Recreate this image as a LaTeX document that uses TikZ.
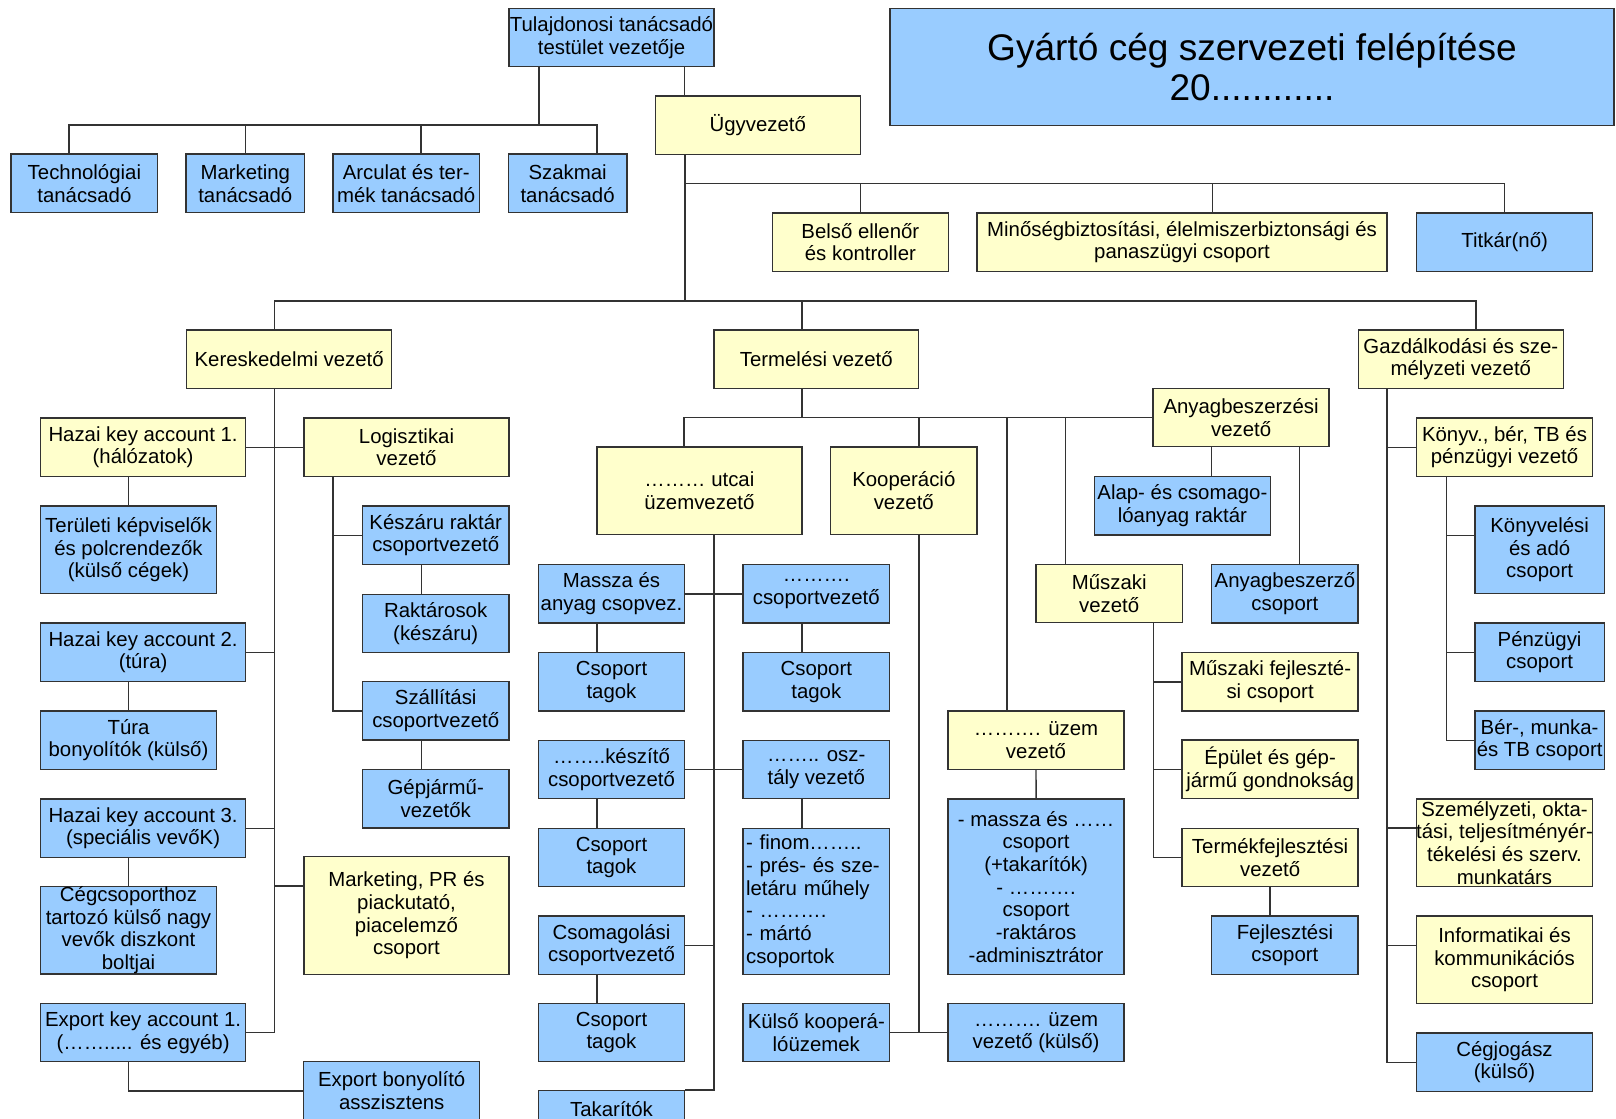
\documentclass[tikz,border=0pt]{standalone}
\usepackage{fontspec}
\setmainfont{Liberation Sans}
\definecolor{boxblue}{HTML}{99CCFF}
\definecolor{boxyellow}{HTML}{FFFFCC}
\definecolor{edge}{HTML}{333333}
\begin{document}
\begin{tikzpicture}[
      x=0.02cm, y=-0.02cm,
      header/.style={rectangle, draw=edge, line width=0.8pt, inner sep=0pt, align=center, font=\fontsize{11.6}{12.9}\selectfont},
      lead/.style={header, fill=boxyellow},
      unit/.style={header, fill=boxblue},
      broad/.style={minimum width=4.10cm},
      regular/.style={minimum width=3.52cm},
      compact/.style={minimum width=2.93cm},
      narrowbox/.style={minimum width=2.37cm},
      finbox/.style={minimum width=2.59cm},
      tworow/.style={minimum height=1.17cm},
      threerow/.style={minimum height=1.75cm},
      link/.style={draw=edge, line width=0.8pt}
  ]
    \useasboundingbox (0,0) rectangle (1616,1119);
    \fill[white] (0,0) rectangle (1616,1119);
    \clip (0,0) rectangle (1616,1119);

    % felső szint
    \node[unit, minimum width=14.48cm, minimum height=2.35cm, font=\fontsize{21.1}{23.3}\selectfont] (title) at (1252,67) {Gyártó cég szervezeti felépítése\\20............};
    \node[unit, broad, tworow] (tulaj) at (611.5,37.5) {Tulajdonosi tanácsadó\\testület vezetője};
    \node[lead, broad, tworow] (ugy) at (757.8,125.4) {Ügyvezető};
    \node[unit, compact, tworow] (tech) at (84.4,183.4) {Technológiai\\tanácsadó};
    \node[unit, narrowbox, tworow] (mkt) at (245.3,183.4) {Marketing\\tanácsadó};
    \node[unit, compact, tworow] (arc) at (406.2,183.4) {Arculat és ter-\\mék tanácsadó};
    \node[unit, narrowbox, tworow] (szak) at (567.6,183.4) {Szakmai\\tanácsadó};
    \node[lead, regular, tworow] (belso) at (860.4,242.2) {Belső ellenőr\\és kontroller};
    \node[lead, minimum width=8.2cm, tworow] (minoseg) at (1182,242.2) {Minőségbiztosítási, élelmiszerbiztonsági és\\panaszügyi csoport};
    \node[unit, regular, tworow] (titkar) at (1504.7,242.2) {Titkár(nő)};
    \node[lead, broad, tworow] (keresk) at (289.2,359.2) {Kereskedelmi vezető};
    \node[lead, broad, tworow] (termel) at (816.3,359.2) {Termelési vezető};
    \node[lead, broad, tworow] (gazd) at (1460.8,359.2) {Gazdálkodási és sze-\\mélyzeti vezető};

    % kereskedelem
    \node[lead, broad, tworow] (hazai1) at (143.1,447.2) {Hazai key account 1.\\(hálózatok)};
    \node[lead, broad, tworow] (logiszt) at (406.5,447.2) {Logisztikai\\vezető};
    \node[unit, regular, threerow] (terul) at (128.5,549.7) {Területi képviselők\\és polcrendezők\\(külső cégek)};
    \node[unit, broad, tworow] (hazai2) at (143.1,652.2) {Hazai key account 2.\\(túra)};
    \node[unit, regular, tworow] (tura) at (128.5,740.2) {Túra\\bonyolítók (külső)};
    \node[unit, broad, tworow] (hazai3) at (143.1,828.2) {Hazai key account 3.\\(speciális vevőK)};
    \node[unit, regular, threerow, inner ysep=-1pt] (cegcs) at (128.5,930.2) {Cégcsoporthoz\\tartozó külső nagy\\vevők diszkont\\boltjai};
    \node[unit, broad, tworow] (exp1) at (143.1,1032.5) {Export key account 1.\\(……..... és egyéb)};
    \node[unit, regular, tworow] (expb) at (391.7,1090.8) {Export bonyolító\\asszisztens};
    \node[lead, broad, minimum height=2.35cm] (mktpr) at (406.5,915.5) {Marketing, PR és\\piackutató,\\piacelemző\\csoport};
    \node[unit, compact, tworow] (keszaru) at (435.7,535.2) {Készáru raktár\\csoportvezető};
    \node[unit, compact, tworow] (raktar) at (435.7,623.5) {Raktárosok\\(készáru)};
    \node[unit, compact, tworow] (szall) at (435.7,710.9) {Szállítási\\csoportvezető};
    \node[unit, compact, tworow] (gepj) at (435.7,798.8) {Gépjármű-\\vezetők};

    % termelés
    \node[lead, broad, threerow] (utcai) at (699.4,490.9) {……… utcai\\üzemvezető};
    \node[lead, compact, threerow] (koop) at (903.8,490.9) {Kooperáció\\vezető};
    \node[lead, regular, tworow] (anyag) at (1241.1,417.5) {Anyagbeszerzési\\vezető};
    \node[unit, regular, tworow] (alap) at (1182.4,505.9) {Alap- és csomago-\\lóanyag raktár};
    \node[lead, compact, tworow] (muszaki) at (1109.2,593.5) {Műszaki\\vezető};
    \node[unit, compact, tworow] (anyagcs) at (1284.9,593.8) {Anyagbeszerző\\csoport};
    \node[lead, regular, tworow] (muszfejl) at (1270.1,681.9) {Műszaki fejleszté-\\si csoport};
    \node[lead, regular, tworow] (epulet) at (1270.1,769.2) {Épület és gép-\\jármű gondnokság};
    \node[lead, regular, tworow] (termfejl) at (1270.1,857.5) {Termékfejlesztési\\vezető};
    \node[unit, compact, tworow] (fejlcs) at (1284.9,945.2) {Fejlesztési\\csoport};
    \node[lead, regular, tworow] (uzemv) at (1036,740.2) {………. üzem\\vezető};
    \node[unit, regular, minimum height=3.51cm] (masszab) at (1036.1,886.7) {- massza és ……\\csoport\\(+takarítók)\\- ……….\\csoport\\-raktáros\\-adminisztrátor};
    \node[unit, regular, tworow] (uzemk) at (1036.1,1032.5) {………. üzem\\vezető (külső)};
    \node[unit, compact, tworow] (kulsok) at (816.3,1032.5) {Külső kooperá-\\lóüzemek};
    \node[unit, compact, tworow] (massza) at (611.5,593.8) {Massza és\\anyag csopvez.};
    \node[unit, compact, tworow] (csopv) at (816.3,593.8) {……….\\csoportvezető};
    \node[unit, compact, tworow] (tag1) at (611.5,681.7) {Csoport\\tagok};
    \node[unit, compact, tworow] (tag2) at (816.3,681.7) {Csoport\\tagok};
    \node[unit, compact, tworow] (keszito) at (611.5,769.5) {……..készítő\\csoportvezető};
    \node[unit, compact, tworow] (osztaly) at (816.3,769.5) {…….. osz-\\tály vezető};
    \node[unit, compact, tworow] (tag3) at (611.5,857.5) {Csoport\\tagok};
    \node[unit, compact, minimum height=2.92cm, align=left, text width=2.81cm, inner xsep=0.06cm] (finom) at (816.3,901.3) {- finom……..\\- prés- és sze-\\letáru műhely\\- ……….\\- mártó\\csoportok};
    \node[unit, compact, tworow] (csomag) at (611.5,945.2) {Csomagolási\\csoportvezető};
    \node[unit, compact, tworow] (tag4) at (611.5,1032.5) {Csoport\\tagok};
    \node[unit, compact, tworow] (takar) at (611.5,1120) {Takarítók\\\mbox{}};

    % gazdálkodás
    \node[lead, regular, tworow] (konyv) at (1504.5,447.2) {Könyv., bér, TB és\\pénzügyi vezető};
    \node[unit, finbox, threerow] (konyvel) at (1539.6,549.7) {Könyvelési\\és adó\\csoport};
    \node[unit, finbox, tworow] (penz) at (1539.6,652.2) {Pénzügyi\\csoport};
    \node[unit, finbox, tworow] (ber) at (1539.6,740.2) {Bér-, munka-\\és TB csoport};
    \node[lead, regular, threerow, inner ysep=-1pt] (szemely) at (1504.5,842.9) {Személyzeti, okta-\\\makebox[0pt]{tási, teljesítményér-}\\tékelési és szerv.\\munkatárs};
    \node[lead, regular, threerow] (inform) at (1504.5,959.7) {Informatikai és\\kommunikációs\\csoport};
    \node[unit, regular, tworow] (cegjog) at (1504.5,1062.2) {Cégjogász\\(külső)};

    % vonalak
    \coordinate (tanbar) at (0,125);
    \coordinate (stabbar) at (0,183.3);
    \coordinate (fobar) at (0,301);
    \coordinate (techtop) at ([xshift=-0.31cm]tech.north);
    \coordinate (arctop) at ([xshift=0.30cm]arc.north);
    \coordinate (szaktop) at ([xshift=0.59cm]szak.north);
    \coordinate (tulajl) at ([xshift=-1.45cm]tulaj.south);
    \coordinate (tulajr) at ([xshift=1.46cm]tulaj.south);
    \coordinate (ugybot) at ([xshift=-1.46cm]ugy.south);
    \coordinate (mintop) at ([xshift=0.61cm]minoseg.north);
    \coordinate (kertop) at ([xshift=-0.29cm]keresk.north);
    \coordinate (kerbot) at ([xshift=-0.29cm]keresk.south);
    \coordinate (termtop) at ([xshift=-0.29cm]termel.north);
    \coordinate (termbot) at ([xshift=-0.29cm]termel.south);
    \coordinate (gazdtop) at ([xshift=0.30cm]gazd.north);
    \coordinate (gazdbot) at ([xshift=-1.48cm]gazd.south);

    \draw[link] (techtop) |- (szaktop |- tanbar) -- (szaktop);
    \draw[link] (mkt.north) -- (mkt.north |- tanbar);
    \draw[link] (arctop) -- (arctop |- tanbar);
    \draw[link] (tulajl) -- (tulajl |- tanbar);
    \draw[link] (tulajr) -- (tulajr |- ugy.north);
    \draw[link] (ugybot) -- (ugybot |- fobar);
    \draw[link] (ugybot |- stabbar) -| (titkar.north);
    \draw[link] (belso.north) -- (belso.north |- stabbar);
    \draw[link] (mintop) -- (mintop |- stabbar);
    \draw[link] (kertop) |- (gazdtop |- fobar) -- (gazdtop);
    \draw[link] (termtop) -- (termtop |- fobar);

    \coordinate (mktin) at ([yshift=0.59cm]mktpr.west);
    \coordinate (expbot) at ([xshift=-0.29cm]exp1.south);
    \coordinate (logbot) at ([xshift=-1.47cm]logiszt.south);
    \coordinate (keszbot) at ([xshift=-0.29cm]keszaru.south);
    \coordinate (szallbot) at ([xshift=-0.29cm]szall.south);
    \draw[link] (kerbot) |- (exp1.east);
    \draw[link] (hazai1.east) -- (logiszt.west);
    \draw[link] (hazai2.east) -- (hazai2.east -| kerbot);
    \draw[link] (hazai3.east) -- (hazai3.east -| kerbot);
    \draw[link] (mktin) -- (mktin -| kerbot);
    \draw[link] (terul.north) -- (terul.north |- hazai1.south);
    \draw[link] (tura.north) -- (tura.north |- hazai2.south);
    \draw[link] (cegcs.north) -- (cegcs.north |- hazai3.south);
    \draw[link] (expbot) |- (expb.west);
    \draw[link] (logbot) |- (szall.west);
    \draw[link] (keszaru.west) -- (keszaru.west -| logbot);
    \draw[link] (keszbot) -- (keszbot |- raktar.north);
    \draw[link] (szallbot) -- (szallbot |- gepj.north);

    \coordinate (utctop) at ([xshift=-0.31cm]utcai.north);
    \coordinate (utcbot) at ([xshift=0.29cm]utcai.south);
    \coordinate (kooptop) at ([xshift=0.30cm]koop.north);
    \coordinate (koopbot) at ([xshift=0.30cm]koop.south);
    \coordinate (uzemtop) at ([xshift=-0.58cm]uzemv.north);
    \coordinate (musztop) at ([xshift=-0.88cm]muszaki.north);
    \coordinate (muszbot) at ([xshift=0.88cm]muszaki.south);
    \coordinate (alaptap) at ([xshift=-0.59cm]anyag.south);
    \coordinate (cstap) at ([xshift=1.17cm]anyag.south);
    \draw[link] (termbot) -- (termbot |- anyag.west);
    \draw[link] (utctop) |- (anyag.west);
    \draw[link] (kooptop) -- (kooptop |- anyag.west);
    \draw[link] (koopbot) -- (koopbot |- kulsok.east);
    \draw[link] (kulsok.east) -- (uzemk.west);
    \draw[link] (uzemtop) -- (uzemtop |- anyag.west);
    \draw[link] (uzemv.south) -- (masszab.north);
    \draw[link] (musztop) -- (musztop |- anyag.west);
    \draw[link] (muszbot) |- (termfejl.west);
    \draw[link] (muszfejl.west) -- (muszfejl.west -| muszbot);
    \draw[link] (epulet.west) -- (epulet.west -| muszbot);
    \draw[link] (termfejl.south) -- (termfejl.south |- fejlcs.north);
    \draw[link] (alaptap) -- (alaptap |- alap.north);
    \draw[link] (cstap) -- (cstap |- anyagcs.north);

    \coordinate (masszbot) at ([xshift=-0.29cm]massza.south);
    \coordinate (csopvbot) at ([xshift=-0.29cm]csopv.south);
    \coordinate (keszitobot) at ([xshift=-0.29cm]keszito.south);
    \coordinate (osztbot) at ([xshift=-0.29cm]osztaly.south);
    \coordinate (csombot) at ([xshift=-0.29cm]csomag.south);
    \draw[link] (utcbot) |- (takar.north east);
    \draw[link] (massza.east) -- (csopv.west);
    \draw[link] (keszito.east) -- (osztaly.west);
    \draw[link] (csomag.east) -- (csomag.east -| utcbot);
    \draw[link] (masszbot) -- (masszbot |- tag1.north);
    \draw[link] (csopvbot) -- (csopvbot |- tag2.north);
    \draw[link] (keszitobot) -- (keszitobot |- tag3.north);
    \draw[link] (osztbot) -- (osztbot |- finom.north);
    \draw[link] (csombot) -- (csombot |- tag4.north);

    \coordinate (szemin) at ([yshift=0.30cm]szemely.west);
    \coordinate (infin) at ([yshift=0.29cm]inform.west);
    \coordinate (konyvbot) at ([xshift=-1.16cm]konyv.south);
    \coordinate (konyvin) at ([yshift=0.29cm]konyvel.west);
    \draw[link] (gazdbot) |- (cegjog.west);
    \draw[link] (konyv.west) -- (konyv.west -| gazdbot);
    \draw[link] (szemin) -- (szemin -| gazdbot);
    \draw[link] (infin) -- (infin -| gazdbot);
    \draw[link] (konyvbot) |- (ber.west);
    \draw[link] (konyvin) -- (konyvin -| konyvbot);
    \draw[link] (penz.west) -- (penz.west -| konyvbot);
  \end{tikzpicture}
\end{document}
